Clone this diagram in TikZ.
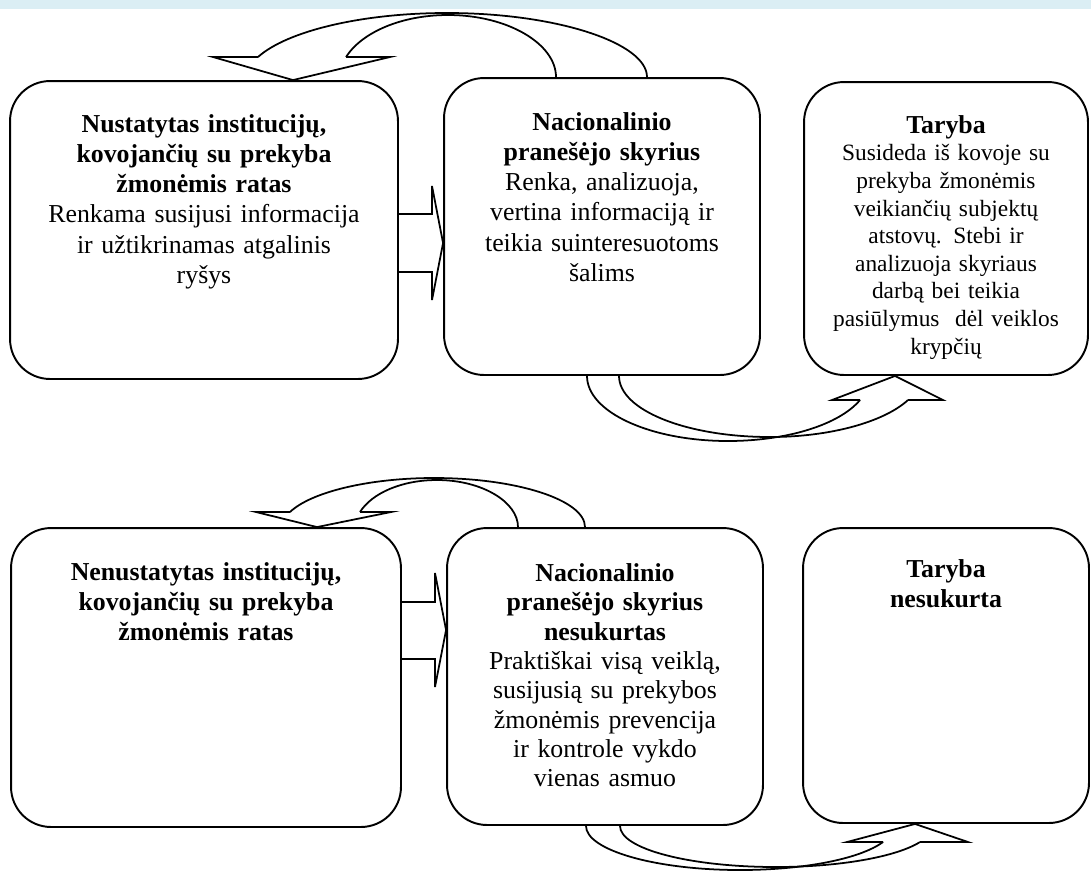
\documentclass[tikz,border=0pt]{standalone}
\usepackage{fontspec}
\setmainfont{Liberation Serif}
\usetikzlibrary{positioning}

\definecolor{juosta}{RGB}{219,238,244}
\newcommand{\didelis}{\fontsize{14.7}{17.2}\selectfont}
\newcommand{\mazesnis}{\fontsize{13.3}{15.7}\selectfont}

\begin{document}
\begin{tikzpicture}[x=0.02cm, y=-0.02cm,
        blok/.style={draw, line width=1.1pt, rounded corners=0.8cm},
        tekstas/.style={align=center, inner sep=0pt, text width=7.4cm, font=\didelis},
        mazas/.style={align=center, inner sep=0pt, text width=5.4cm, font=\mazesnis},
        rodykle/.style={draw, line width=1pt, line join=miter}]

        \useasboundingbox (0,0) rectangle (1091,870);
        \fill[juosta] (0,0) rectangle (1091,9);

        % Upper row: the circle is set up
        \node[blok, minimum width=7.76cm, minimum height=5.96cm] (ratas) at (204,230) {};
        \node[blok, minimum width=6.32cm, minimum height=5.94cm] (skyrius) at (602,226.5) {};
        \node[blok, minimum width=5.68cm, minimum height=5.86cm] (taryba) at (946,228.5) {};

        \node[tekstas, below=0.68cm of ratas.north] (ratasTxt)
            {\textbf{Nustatytas institucijų,}\\ \textbf{kovojančių su prekyba}\\ \textbf{žmonėmis ratas}\\
             Renkama susijusi informacija\\ ir užtikrinamas atgalinis\\ ryšys};
        \node[tekstas, text width=6cm, below=0.7cm of skyrius.north] (skyriusTxt)
            {\textbf{Nacionalinio}\\ \textbf{pranešėjo skyrius}\\
             Renka, analizuoja,\\ vertina informaciją ir\\ teikia suinteresuotoms\\ šalims};
        \node[mazas, below=0.68cm of taryba.north] (tarybaTxt)
            {{\fontsize{14.7}{15.7}\selectfont\textbf{Taryba}}\\
             Susideda iš kovoje su\\ prekyba žmonėmis\\ veikiančių subjektų\\ atstovų. Stebi ir\\
             analizuoja skyriaus\\ darbą bei teikia\\ pasiūlymus \ dėl veiklos\\ krypčių};

        % Lower row: nothing set up
        \node[blok, minimum width=7.8cm, minimum height=5.98cm] (neratas) at (206,677.5) {};
        \node[blok, minimum width=6.32cm, minimum height=5.94cm] (neskyrius) at (605,676.5) {};
        \node[blok, minimum width=5.72cm, minimum height=5.9cm] (netaryba) at (946,675.5) {};

        \node[tekstas, below=0.7cm of neratas.north] (neratasTxt)
            {\textbf{Nenustatytas institucijų,}\\ \textbf{kovojančių su prekyba}\\ \textbf{žmonėmis ratas}};
        \node[tekstas, text width=6cm, font=\fontsize{14.7}{16.7}\selectfont,
              below=0.72cm of neskyrius.north] (neskyriusTxt)
            {\textbf{Nacionalinio}\\ \textbf{pranešėjo skyrius}\\ \textbf{nesukurtas}\\
             Praktiškai visą veiklą,\\ susijusią su prekybos\\ žmonėmis prevencija\\ ir kontrole vykdo\\ vienas asmuo};
        \node[tekstas, text width=5.4cm, below=0.64cm of netaryba.north] (netarybaTxt)
            {\textbf{Taryba}\\ \textbf{nesukurta}};

        % Straight block arrows
        \draw[rodykle] (ratas.east |- 0,214) -- (432,214) -- (432,186) -- (skyrius.west |- 0,243)
            -- (432,300) -- (432,272) -- (ratas.east |- 0,272);
        \draw[rodykle] (neratas.east |- 0,602) -- (435,602) -- (435,573) -- (neskyrius.west |- 0,630)
            -- (435,687) -- (435,659) -- (neratas.east |- 0,659);

        % Curved arrow back over the upper row
        \draw[rodykle] (258,57) -- (213,57) -- (ratas.north -| 293,0) -- (390,57) -- (346,57);
        \draw[rodykle] (skyrius.north -| 647,0) .. controls (647,43) and (557,13) .. (447,13)
            .. controls (362,13) and (287,31) .. (258,57);
        \draw[rodykle] (skyrius.north -| 556,0) .. controls (556,44) and (508,15) .. (448,15)
            .. controls (402,15) and (362,32) .. (346,57);

        % Curved arrow under the upper row
        \draw[rodykle] (860,400) -- (832,400) -- (taryba.south -| 895,0) -- (943,400) -- (908,400);
        \draw[rodykle] (skyrius.south -| 587,0) .. controls (587,412) and (650,441) .. (728,441)
            .. controls (786,441) and (839,425) .. (860,400);
        \draw[rodykle] (skyrius.south -| 619,0) .. controls (619,410) and (686,437) .. (770,437)
            .. controls (830,437) and (884,422) .. (908,400);

        % Curved arrow back over the lower row
        \draw[rodykle] (290,512) -- (256,512) -- (neratas.north -| 317,0) -- (391,512) -- (360,512);
        \draw[rodykle] (neskyrius.north -| 585,0) .. controls (585,500) and (517,478) .. (434,478)
            .. controls (369,478) and (311,492) .. (290,512);
        \draw[rodykle] (neskyrius.north -| 518,0) .. controls (518,502) and (482,480) .. (437,480)
            .. controls (402,480) and (372,493) .. (360,512);

        % Curved arrow under the lower row
        \draw[rodykle] (883,842) -- (847,842) -- (netaryba.south -| 915,0) -- (968,842) -- (920,842);
        \draw[rodykle] (neskyrius.south -| 586,0) .. controls (586,850) and (655,870) .. (740,870)
            .. controls (803,870) and (860,859) .. (883,842);
        \draw[rodykle] (neskyrius.south -| 620,0) .. controls (620,849) and (690,867) .. (776,867)
            .. controls (839,867) and (896,857) .. (920,842);
\end{tikzpicture}
\end{document}
